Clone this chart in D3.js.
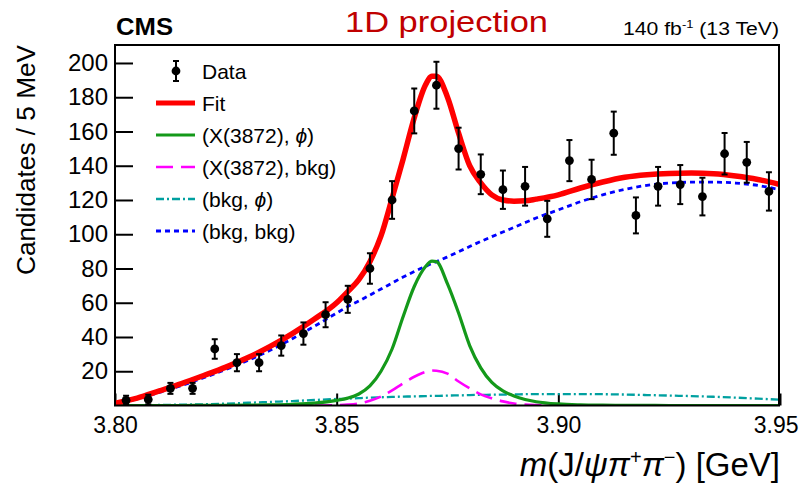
<!DOCTYPE html>
<html>
<head>
<meta charset="utf-8">
<script src="https://cdn.jsdelivr.net/npm/d3@7"></script>
<style>
  body { margin: 0; background: #fff; }
  svg { display: block; }
  text { font-family: "Liberation Sans", Arial, Helvetica, sans-serif; fill: #000; }
</style>
</head>
<body>
<svg id="chart" width="799" height="484"></svg>
<script>
// ---- data: 5 MeV bins of m(J/psi pi+ pi-) ----
const binCenters = [3.8025, 3.8075, 3.8125, 3.8175, 3.8225, 3.8275, 3.8325, 3.8375, 3.8425, 3.8475,
                    3.8525, 3.8575, 3.8625, 3.8675, 3.8725, 3.8775, 3.8825, 3.8875, 3.8925, 3.8975,
                    3.9025, 3.9075, 3.9125, 3.9175, 3.9225, 3.9275, 3.9325, 3.9375, 3.9425, 3.9475];
const counts = [3, 3.5, 10, 10, 33, 25, 25, 35, 42, 53,
                62, 80, 120, 172, 187, 150, 135, 126, 128, 109,
                143, 132, 159, 111, 128, 129, 122, 147, 142, 125];
const countErrors = [2.7, 2.8, 3.2, 3.2, 5.7, 5.0, 5.0, 5.9, 6.5, 7.3,
                     7.9, 8.9, 11.0, 13.1, 13.7, 12.2, 11.6, 11.2, 11.3, 10.5,
                     12.0, 11.5, 12.6, 10.5, 11.3, 11.4, 11.0, 12.1, 11.9, 11.2];

// ---- fit model curves, sampled on a mass grid ----
const massGrid = [3.800, 3.805, 3.810, 3.815, 3.820, 3.825, 3.830, 3.835, 3.840, 3.845,
                  3.850, 3.8525, 3.855, 3.8575, 3.860, 3.8625, 3.865, 3.8675, 3.870, 3.8715,
                  3.8725, 3.875, 3.8775, 3.880, 3.8825, 3.885, 3.8875, 3.890, 3.8925, 3.895,
                  3.900, 3.905, 3.910, 3.915, 3.920, 3.925, 3.930, 3.935, 3.940, 3.945, 3.950];
const fitTotal = [1.3, 4.3, 8.5, 12.8, 17.5, 22.4, 28, 34.5, 42, 50.5,
                  60, 66.5, 73.5, 84, 99, 121, 144, 168, 187, 192.3,
                  192.3, 180, 159, 140, 130, 123, 120, 119.3, 119.5, 120.5,
                  123, 127, 130.5, 133.3, 134.8, 135.5, 135.7, 135.3, 134, 132, 129];
const x3872Phi = [0, 0, 0, 0, 0.05, 0.1, 0.2, 0.35, 0.7, 1.4,
                  3, 4.3, 6.7, 11.4, 20, 33, 52, 69.5, 81, 84.3,
                  84, 71, 54, 35, 22, 13.5, 8.5, 5.5, 3.5, 2.2,
                  0.9, 0.4, 0.2, 0.1, 0.05, 0, 0, 0, 0, 0, 0];
const x3872Bkg = [0, 0, 0, 0, 0, 0, 0, 0, 0, 0,
                  0.2, 0.5, 1.2, 2.8, 5.2, 8.8, 13, 16.8, 19.6, 20.4,
                  20.3, 18.6, 14, 10, 6.5, 4.2, 2.4, 1.2, 0.6, 0.3,
                  0.05, 0, 0, 0, 0, 0, 0, 0, 0, 0, 0];
const bkgPhi = [0, 0.1, 0.3, 0.5, 0.7, 1.1, 1.6, 2.1, 2.6, 3.2,
                3.8, 4.0, 4.3, 4.6, 4.8, 5.0, 5.2, 5.3, 5.5, 5.6,
                5.6, 5.8, 5.9, 6.1, 6.2, 6.3, 6.4, 6.5, 6.6, 6.7,
                6.7, 6.7, 6.6, 6.4, 6.1, 5.8, 5.5, 5.1, 4.6, 4.0, 3.4];
const bkgBkg = [0.6, 3.8, 7.6, 11.6, 16.2, 21, 26.3, 32.3, 39, 46.3,
                54, 57.8, 61, 64.5, 68, 71.5, 75, 78.2, 81.2, 83,
                84, 86.8, 89.8, 92.8, 95.8, 98.6, 101.3, 104, 106.8, 109.5,
                114.2, 119, 123, 126.2, 128.6, 129.9, 130.4, 130.4, 129.9, 128.5, 126];

// ---- axis ticks ----
const xMajorTicks = [3.80, 3.85, 3.90, 3.95];
const yMajorTicks = [20, 40, 60, 80, 100, 120, 140, 160, 180, 200];

// ---- layout ----
const svg = d3.select("#chart");
svg.append("rect").attr("width", 799).attr("height", 484).attr("fill", "#fff");

const plot = { left: 115, right: 779, top: 45, bottom: 405.5 };
const x = d3.scaleLinear().domain([3.80, 3.95]).range([115, 780]);
const y = d3.scaleLinear().domain([0, 210.5]).range([plot.bottom, plot.top]);

svg.append("clipPath").attr("id", "plotClip")
  .append("rect")
  .attr("x", plot.left).attr("y", plot.top)
  .attr("width", plot.right - plot.left).attr("height", plot.bottom - plot.top);

// ---- axes (ROOT style: ticks pointing inward) ----
const gx = svg.append("g").attr("transform", `translate(0,${plot.bottom})`);
gx.call(d3.axisBottom(x).tickValues(x.ticks(15)).tickSize(-6).tickSizeOuter(0).tickFormat(""));
gx.call(d3.axisBottom(x).tickValues(xMajorTicks).tickSize(-12).tickSizeOuter(0)
  .tickPadding(11).tickFormat(d3.format(".2f")));
gx.selectAll(".domain").remove();
gx.selectAll("line").attr("stroke", "#000").attr("stroke-width", 2);
gx.selectAll("text").attr("font-size", 23).attr("fill", "#000")
  .attr("font-family", "'Liberation Sans', Arial, sans-serif");
// keep the last label inside the canvas
gx.selectAll(".tick text").filter(d => d === 3.95).attr("text-anchor", "end").attr("x", 798 - x(3.95));

const gy = svg.append("g").attr("transform", `translate(${plot.left},0)`);
gy.call(d3.axisLeft(y).tickValues(y.ticks(42).filter(v => v > 0)).tickSize(-9).tickSizeOuter(0).tickFormat(""));
gy.call(d3.axisLeft(y).tickValues(yMajorTicks).tickSize(-18).tickSizeOuter(0)
  .tickPadding(7).tickFormat(d3.format("d")));
gy.selectAll(".domain").remove();
gy.selectAll("line").attr("stroke", "#000").attr("stroke-width", 2);
gy.selectAll("text").attr("font-size", 24).attr("fill", "#000")
  .attr("font-family", "'Liberation Sans', Arial, sans-serif");

// ---- fit components ----
const curves = [
  { values: bkgBkg,   color: "#0000ff", width: 2.8, dash: "5,4" },
  { values: bkgPhi,   color: "#00a0a0", width: 2.3, dash: "8,3,2,3" },
  { values: x3872Bkg, color: "#ff00ff", width: 2.6, dash: "17,8" },
  { values: x3872Phi, color: "#14991a", width: 3.2, dash: null },
  { values: fitTotal, color: "#ff0000", width: 5.5, dash: null }
];
const line = d3.line()
  .x((d, i) => x(massGrid[i]))
  .y(d => y(d))
  .curve(d3.curveMonotoneX);

const gCurves = svg.append("g").attr("clip-path", "url(#plotClip)");
curves.forEach(c => {
  gCurves.append("path")
    .datum(c.values)
    .attr("d", line)
    .attr("fill", "none")
    .attr("stroke", c.color)
    .attr("stroke-width", c.width)
    .attr("stroke-dasharray", c.dash)
    .attr("stroke-linejoin", "round");
});

// ---- data points with error bars ----
const capHalf = 3;
const gData = svg.append("g");
binCenters.forEach((m, i) => {
  const cx = x(m);
  const lo = y(Math.max(0, counts[i] - countErrors[i]));
  const hi = y(counts[i] + countErrors[i]);
  const g = gData.append("g").attr("stroke", "#000").attr("stroke-width", 2);
  g.append("line").attr("x1", cx).attr("x2", cx).attr("y1", lo).attr("y2", hi);
  g.append("line").attr("x1", cx - capHalf).attr("x2", cx + capHalf).attr("y1", lo).attr("y2", lo);
  g.append("line").attr("x1", cx - capHalf).attr("x2", cx + capHalf).attr("y1", hi).attr("y2", hi);
  gData.append("circle").attr("cx", cx).attr("cy", y(counts[i])).attr("r", 4.4).attr("fill", "#000");
});

// ---- frame ----
svg.append("rect")
  .attr("x", plot.left).attr("y", plot.top)
  .attr("width", plot.right - plot.left).attr("height", plot.bottom - plot.top)
  .attr("fill", "none").attr("stroke", "#000").attr("stroke-width", 2);

// ---- legend ----
const legendItems = [
  { label: ["Data"], kind: "data" },
  { label: ["Fit"], color: "#ff0000", width: 5, dash: null },
  { label: ["(X(3872), ", { t: "ϕ", it: true }, ")"], color: "#14991a", width: 3, dash: null },
  { label: ["(X(3872), bkg)"], color: "#ff00ff", width: 2.6, dash: "17,8" },
  { label: ["(bkg, ", { t: "ϕ", it: true }, ")"], color: "#00a0a0", width: 2.3, dash: "8,3,2,3" },
  { label: ["(bkg, bkg)"], color: "#0000ff", width: 2.8, dash: "5,4" }
];
const gLeg = svg.append("g");
legendItems.forEach((item, i) => {
  const cy = 71 + i * 32;
  if (item.kind === "data") {
    const g = gLeg.append("g").attr("stroke", "#000").attr("stroke-width", 2);
    g.append("line").attr("x1", 176).attr("x2", 176).attr("y1", cy - 10).attr("y2", cy + 10);
    g.append("line").attr("x1", 173).attr("x2", 179).attr("y1", cy - 10).attr("y2", cy - 10);
    g.append("line").attr("x1", 173).attr("x2", 179).attr("y1", cy + 10).attr("y2", cy + 10);
    gLeg.append("circle").attr("cx", 176).attr("cy", cy).attr("r", 4.4).attr("fill", "#000");
  } else {
    gLeg.append("line").attr("x1", 156).attr("x2", 195).attr("y1", cy).attr("y2", cy)
      .attr("stroke", item.color).attr("stroke-width", item.width)
      .attr("stroke-dasharray", item.dash);
  }
  const t = gLeg.append("text").attr("x", 202).attr("y", cy + 7.5).attr("font-size", 21);
  item.label.forEach(part => {
    if (typeof part === "string") t.append("tspan").text(part);
    else t.append("tspan").attr("font-style", "italic").text(part.t);
  });
});

// ---- labels ----
svg.append("text").attr("x", 116).attr("y", 35)
  .attr("font-size", 23).attr("font-weight", "bold").attr("textLength", 57)
  .attr("lengthAdjust", "spacingAndGlyphs").text("CMS");

svg.append("text").attr("x", 345).attr("y", 32)
  .attr("font-family", "Lato, 'Open Sans', sans-serif")
  .attr("font-size", 30).attr("textLength", 203).attr("lengthAdjust", "spacingAndGlyphs")
  .style("fill", "#c00000").text("1D projection");

const lumi = svg.append("text").attr("x", 779).attr("y", 35)
  .attr("font-size", 18).attr("text-anchor", "end")
  .attr("textLength", 156).attr("lengthAdjust", "spacingAndGlyphs");
lumi.append("tspan").text("140 fb");
lumi.append("tspan").attr("font-size", 11).attr("dy", -7).text("-1");
lumi.append("tspan").attr("dy", 7).text(" (13 TeV)");

svg.append("text")
  .attr("transform", "translate(35,160) rotate(-90)")
  .attr("text-anchor", "middle").attr("font-size", 26)
  .attr("textLength", 230).attr("lengthAdjust", "spacingAndGlyphs")
  .text("Candidates / 5 MeV");

const xl = svg.append("text").attr("x", 780).attr("y", 476)
  .attr("font-size", 33).attr("text-anchor", "end");
xl.append("tspan").attr("font-style", "italic").text("m");
xl.append("tspan").text("(J/");
xl.append("tspan").attr("font-style", "italic").text("ψπ");
xl.append("tspan").attr("font-size", 20).attr("dy", -12).text("+");
xl.append("tspan").attr("font-style", "italic").attr("dy", 12).text("π");
xl.append("tspan").attr("font-size", 20).attr("dy", -12).text("−");
xl.append("tspan").attr("dy", 12).text(") [GeV]");
</script>
</body>
</html>
